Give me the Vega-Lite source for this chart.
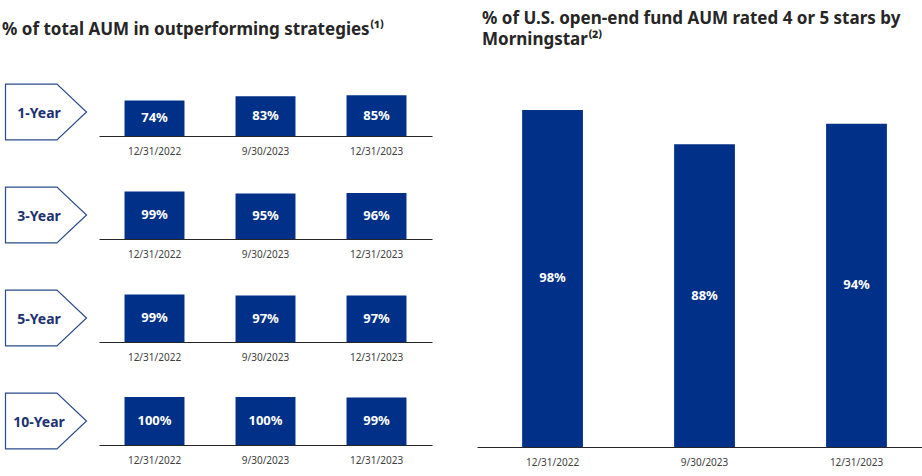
{
  "$schema": "https://vega.github.io/schema/vega-lite/v6.json",
  "padding": {"top": 10, "left": 0, "right": 0, "bottom": 0},
  "background": "white",
  "config": {
    "font": "Noto Sans",
    "view": {"stroke": null},
    "title": {"font": "Noto Sans", "fontSize": 17, "fontWeight": "bold", "color": "#262626", "anchor": "start"},
    "axisX": {"title": null, "ticks": false, "grid": false, "labelAngle": 0, "labelPadding": 10, "labelFont": "Noto Sans", "labelFontSize": 10, "labelColor": "#404040", "domainColor": "#262626", "domainWidth": 1}
  },
  "datasets": {
    "horizons": [
      {"horizon": "1-Year"},
      {"horizon": "3-Year"},
      {"horizon": "5-Year"},
      {"horizon": "10-Year"}
    ],
    "perf": [
      {"horizon": "1-Year", "date": "12/31/2022", "value": 0.74},
      {"horizon": "1-Year", "date": "9/30/2023", "value": 0.83},
      {"horizon": "1-Year", "date": "12/31/2023", "value": 0.85},
      {"horizon": "3-Year", "date": "12/31/2022", "value": 0.99},
      {"horizon": "3-Year", "date": "9/30/2023", "value": 0.95},
      {"horizon": "3-Year", "date": "12/31/2023", "value": 0.96},
      {"horizon": "5-Year", "date": "12/31/2022", "value": 0.99},
      {"horizon": "5-Year", "date": "9/30/2023", "value": 0.97},
      {"horizon": "5-Year", "date": "12/31/2023", "value": 0.97},
      {"horizon": "10-Year", "date": "12/31/2022", "value": 1.0},
      {"horizon": "10-Year", "date": "9/30/2023", "value": 1.0},
      {"horizon": "10-Year", "date": "12/31/2023", "value": 0.99}
    ],
    "stars": [
      {"date": "12/31/2022", "value": 0.98},
      {"date": "9/30/2023", "value": 0.88},
      {"date": "12/31/2023", "value": 0.94}
    ]
  },
  "spacing": 45,
  "hconcat": [
    {
      "title": {"text": "% of total AUM in outperforming strategies⁽¹⁾", "offset": 43, "dx": 2},
      "spacing": 28,
      "vconcat": [
        {
          "spacing": 7,
          "hconcat": [
            {
              "width": 92, "height": 48,
              "data": {"name": "horizons"},
              "transform": [{"filter": "datum.horizon === '1-Year'"}],
              "layer": [
                {"mark": {"type": "point", "shape": "M-1,-0.69L0.27,-0.69L1,0L0.27,0.69L-1,0.69Z", "size": 6561, "filled": false, "stroke": "#2a4a8c", "strokeWidth": 1.2, "opacity": 1}, "encoding": {}},
                {"mark": {"type": "text", "fontSize": 14, "fontWeight": "bold", "color": "#1c3270", "dx": -7, "dy": 2}, "encoding": {"text": {"field": "horizon"}}}
              ]
            },
            {
              "width": 333, "height": 48,
              "data": {"name": "perf"},
              "transform": [{"filter": "datum.horizon === '1-Year'"}],
              "encoding": {"x": {"field": "date", "type": "nominal", "sort": ["12/31/2022", "9/30/2023", "12/31/2023"], "scale": {"paddingInner": 0.46, "paddingOuter": 0.23}}},
              "layer": [
                {"mark": {"type": "bar", "color": "#003087"}, "encoding": {"y": {"field": "value", "type": "quantitative", "scale": {"domain": [0, 1], "nice": false}, "axis": null}}},
                {"mark": {"type": "text", "color": "white", "fontWeight": "bold", "fontSize": 13, "baseline": "middle"}, "encoding": {"y": {"field": "value", "type": "quantitative", "scale": {"domain": [0, 2], "nice": false}, "axis": null}, "text": {"field": "value", "type": "quantitative", "format": ".0%"}}}
              ],
              "resolve": {"scale": {"y": "independent"}}
            }
          ]
        },
        {
          "spacing": 7,
          "hconcat": [
            {
              "width": 92, "height": 48,
              "data": {"name": "horizons"},
              "transform": [{"filter": "datum.horizon === '3-Year'"}],
              "layer": [
                {"mark": {"type": "point", "shape": "M-1,-0.69L0.27,-0.69L1,0L0.27,0.69L-1,0.69Z", "size": 6561, "filled": false, "stroke": "#2a4a8c", "strokeWidth": 1.2, "opacity": 1}, "encoding": {}},
                {"mark": {"type": "text", "fontSize": 14, "fontWeight": "bold", "color": "#1c3270", "dx": -7, "dy": 2}, "encoding": {"text": {"field": "horizon"}}}
              ]
            },
            {
              "width": 333, "height": 48,
              "data": {"name": "perf"},
              "transform": [{"filter": "datum.horizon === '3-Year'"}],
              "encoding": {"x": {"field": "date", "type": "nominal", "sort": ["12/31/2022", "9/30/2023", "12/31/2023"], "scale": {"paddingInner": 0.46, "paddingOuter": 0.23}}},
              "layer": [
                {"mark": {"type": "bar", "color": "#003087"}, "encoding": {"y": {"field": "value", "type": "quantitative", "scale": {"domain": [0, 1], "nice": false}, "axis": null}}},
                {"mark": {"type": "text", "color": "white", "fontWeight": "bold", "fontSize": 13, "baseline": "middle"}, "encoding": {"y": {"field": "value", "type": "quantitative", "scale": {"domain": [0, 2], "nice": false}, "axis": null}, "text": {"field": "value", "type": "quantitative", "format": ".0%"}}}
              ],
              "resolve": {"scale": {"y": "independent"}}
            }
          ]
        },
        {
          "spacing": 7,
          "hconcat": [
            {
              "width": 92, "height": 48,
              "data": {"name": "horizons"},
              "transform": [{"filter": "datum.horizon === '5-Year'"}],
              "layer": [
                {"mark": {"type": "point", "shape": "M-1,-0.69L0.27,-0.69L1,0L0.27,0.69L-1,0.69Z", "size": 6561, "filled": false, "stroke": "#2a4a8c", "strokeWidth": 1.2, "opacity": 1}, "encoding": {}},
                {"mark": {"type": "text", "fontSize": 14, "fontWeight": "bold", "color": "#1c3270", "dx": -7, "dy": 2}, "encoding": {"text": {"field": "horizon"}}}
              ]
            },
            {
              "width": 333, "height": 48,
              "data": {"name": "perf"},
              "transform": [{"filter": "datum.horizon === '5-Year'"}],
              "encoding": {"x": {"field": "date", "type": "nominal", "sort": ["12/31/2022", "9/30/2023", "12/31/2023"], "scale": {"paddingInner": 0.46, "paddingOuter": 0.23}}},
              "layer": [
                {"mark": {"type": "bar", "color": "#003087"}, "encoding": {"y": {"field": "value", "type": "quantitative", "scale": {"domain": [0, 1], "nice": false}, "axis": null}}},
                {"mark": {"type": "text", "color": "white", "fontWeight": "bold", "fontSize": 13, "baseline": "middle"}, "encoding": {"y": {"field": "value", "type": "quantitative", "scale": {"domain": [0, 2], "nice": false}, "axis": null}, "text": {"field": "value", "type": "quantitative", "format": ".0%"}}}
              ],
              "resolve": {"scale": {"y": "independent"}}
            }
          ]
        },
        {
          "spacing": 7,
          "hconcat": [
            {
              "width": 92, "height": 48,
              "data": {"name": "horizons"},
              "transform": [{"filter": "datum.horizon === '10-Year'"}],
              "layer": [
                {"mark": {"type": "point", "shape": "M-1,-0.69L0.27,-0.69L1,0L0.27,0.69L-1,0.69Z", "size": 6561, "filled": false, "stroke": "#2a4a8c", "strokeWidth": 1.2, "opacity": 1}, "encoding": {}},
                {"mark": {"type": "text", "fontSize": 14, "fontWeight": "bold", "color": "#1c3270", "dx": -7, "dy": 2}, "encoding": {"text": {"field": "horizon"}}}
              ]
            },
            {
              "width": 333, "height": 48,
              "data": {"name": "perf"},
              "transform": [{"filter": "datum.horizon === '10-Year'"}],
              "encoding": {"x": {"field": "date", "type": "nominal", "sort": ["12/31/2022", "9/30/2023", "12/31/2023"], "scale": {"paddingInner": 0.46, "paddingOuter": 0.23}}},
              "layer": [
                {"mark": {"type": "bar", "color": "#003087"}, "encoding": {"y": {"field": "value", "type": "quantitative", "scale": {"domain": [0, 1], "nice": false}, "axis": null}}},
                {"mark": {"type": "text", "color": "white", "fontWeight": "bold", "fontSize": 13, "baseline": "middle"}, "encoding": {"y": {"field": "value", "type": "quantitative", "scale": {"domain": [0, 2], "nice": false}, "axis": null}, "text": {"field": "value", "type": "quantitative", "format": ".0%"}}}
              ],
              "resolve": {"scale": {"y": "independent"}}
            }
          ]
        }
      ]
    },
    {
      "width": 445, "height": 359,
      "title": {"text": ["% of U.S. open-end fund AUM rated 4 or 5 stars by", "Morningstar⁽²⁾"], "lineHeight": 21, "offset": 39, "dx": 5},
      "data": {"name": "stars"},
      "encoding": {"x": {"field": "date", "type": "nominal", "sort": ["12/31/2022", "9/30/2023", "12/31/2023"], "scale": {"paddingInner": 0.6, "paddingOuter": 0.264, "align": 0.5625}}},
      "layer": [
        {"mark": {"type": "bar", "color": "#003087"}, "encoding": {"y": {"field": "value", "type": "quantitative", "scale": {"domain": [0, 1.0439], "nice": false}, "axis": null}}},
        {"mark": {"type": "text", "color": "white", "fontWeight": "bold", "fontSize": 13, "baseline": "middle"}, "encoding": {"y": {"field": "value", "type": "quantitative", "scale": {"domain": [0, 2.0878], "nice": false}, "axis": null}, "text": {"field": "value", "type": "quantitative", "format": ".0%"}}}
      ],
      "resolve": {"scale": {"y": "independent"}}
    }
  ]
}
